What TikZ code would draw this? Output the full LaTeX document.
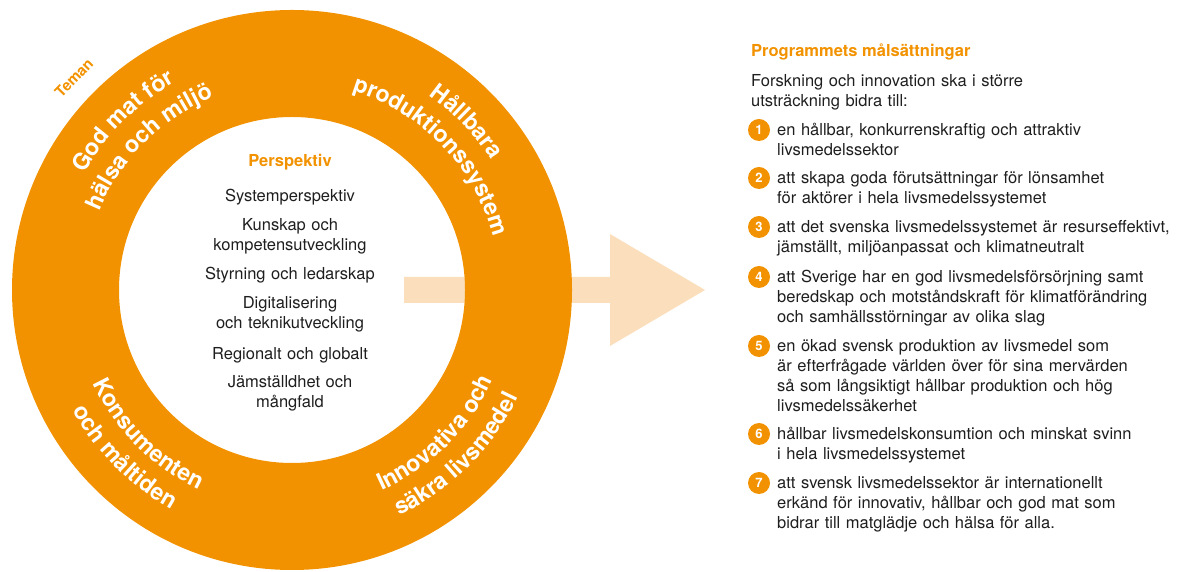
\documentclass[tikz,border=0pt]{standalone}
\usepackage{fontspec}
\setmainfont{TeX Gyre Heros}
\usetikzlibrary{decorations.text}
\definecolor{ora}{HTML}{F29200}
\definecolor{pale}{HTML}{FBDEBB}
\definecolor{txt}{HTML}{1E1E1E}
\newcommand\ringfnt{\fontsize{23}{25}\selectfont\bfseries\color{white}}
\begin{document}
\begin{tikzpicture}[x=1pt,y=1pt,
  body/.style={font=\fontsize{16.5}{20}\selectfont, text=txt, inner sep=0pt},
  itemtext/.style={body, anchor=base west, text width=400pt, align=left},
  numdot/.style={circle, fill=ora, text=white, minimum size=22pt, inner sep=0pt, font=\fontsize{13}{13}\selectfont\bfseries},
  persp/.style={body, anchor=base, text width=220pt, align=center},
  heading/.style={font=\fontsize{16.5}{20}\selectfont\bfseries, text=ora, inner sep=0pt},
  ringtext/.style={decorate, decoration={text along path, text align=center, text={|\ringfnt|#1}}}
]
\useasboundingbox (0,0) rectangle (1177,572);
\coordinate (C) at (292,282);
% arrow
\fill[pale] (404,269) -- (610,269) -- (610,226) -- (705,282) -- (610,338) -- (610,295) -- (404,295) -- cycle;
% ring
\fill[ora, even odd rule] (C) circle[radius=280] (C) circle[radius=173];
% ring labels
\path[ringtext={God mat för}] ([shift={(175:238)}]C) arc[start angle=175, end angle=95, radius=238];
\path[ringtext={hälsa och miljö}] ([shift={(175:208)}]C) arc[start angle=175, end angle=95, radius=208];
\path[ringtext={Hållbara}] ([shift={(84:238)}]C) arc[start angle=84, end angle=4, radius=238];
\path[ringtext={produktionssystem}] ([shift={(84:208)}]C) arc[start angle=84, end angle=4, radius=208];
\path[ringtext={Konsumenten}] ([shift={(185:220)}]C) arc[start angle=185, end angle=265, radius=220];
\path[ringtext={och måltiden}] ([shift={(185:250)}]C) arc[start angle=185, end angle=265, radius=250];
\path[ringtext={Innovativa och}] ([shift={(275:220)}]C) arc[start angle=275, end angle=355, radius=220];
\path[ringtext={säkra livsmedel}] ([shift={(275:250)}]C) arc[start angle=275, end angle=355, radius=250];
\node[font=\fontsize{15}{15}\selectfont\bfseries, text=ora, rotate=46, inner sep=0pt] (teman) at (74,494) {Teman};
% perspektiv
\node[heading, anchor=base] (ptitle) at (290,405) {Perspektiv};
\node[persp] (p1) at (290,370) {Systemperspektiv};
\node[persp] (p2) at (290,341) {Kunskap och\\kompetensutveckling};
\node[persp] (p3) at (290,292) {Styrning och ledarskap};
\node[persp] (p4) at (290,263) {Digitalisering\\och teknikutveckling};
\node[persp] (p5) at (290,212) {Regionalt och globalt};
\node[persp] (p6) at (290,184) {Jämställdhet och\\mångfald};
% right side
\node[heading, anchor=base west] (mtitle) at (751,515) {Programmets målsättningar};
\node[itemtext] (intro) at (751,485) {Forskning och innovation ska i större\\utsträckning bidra till:};
\node[itemtext] (t1) at (777,436) {en hållbar, konkurrenskraftig och attraktiv\\livsmedelssektor};
\node[itemtext] (t2) at (777,388) {att skapa goda förutsättningar för lönsamhet\\för aktörer i hela livsmedelssystemet};
\node[itemtext] (t3) at (777,339) {att det svenska livsmedelssystemet är resurseffektivt,\\jämställt, miljöanpassat och klimatneutralt};
\node[itemtext] (t4) at (777,289) {att Sverige har en god livsmedelsförsörjning samt\\beredskap och motståndskraft för klimatförändring\\och samhällsstörningar av olika slag};
\node[itemtext] (t5) at (777,220) {en ökad svensk produktion av livsmedel som\\är efterfrågade världen över för sina mervärden\\så som långsiktigt hållbar produktion och hög\\livsmedelssäkerhet};
\node[itemtext] (t6) at (777,132) {hållbar livsmedelskonsumtion och minskat svinn\\i hela livsmedelssystemet};
\node[itemtext] (t7) at (777,83) {att svensk livsmedelssektor är internationellt\\erkänd för innovativ, hållbar och god mat som\\bidrar till matglädje och hälsa för alla.};
\node[numdot] (n1) at (759,442) {1};
\node[numdot] (n2) at (759,394) {2};
\node[numdot] (n3) at (759,345) {3};
\node[numdot] (n4) at (759,295) {4};
\node[numdot] (n5) at (759,226) {5};
\node[numdot] (n6) at (759,138) {6};
\node[numdot] (n7) at (759,89) {7};
\end{tikzpicture}
\end{document}
